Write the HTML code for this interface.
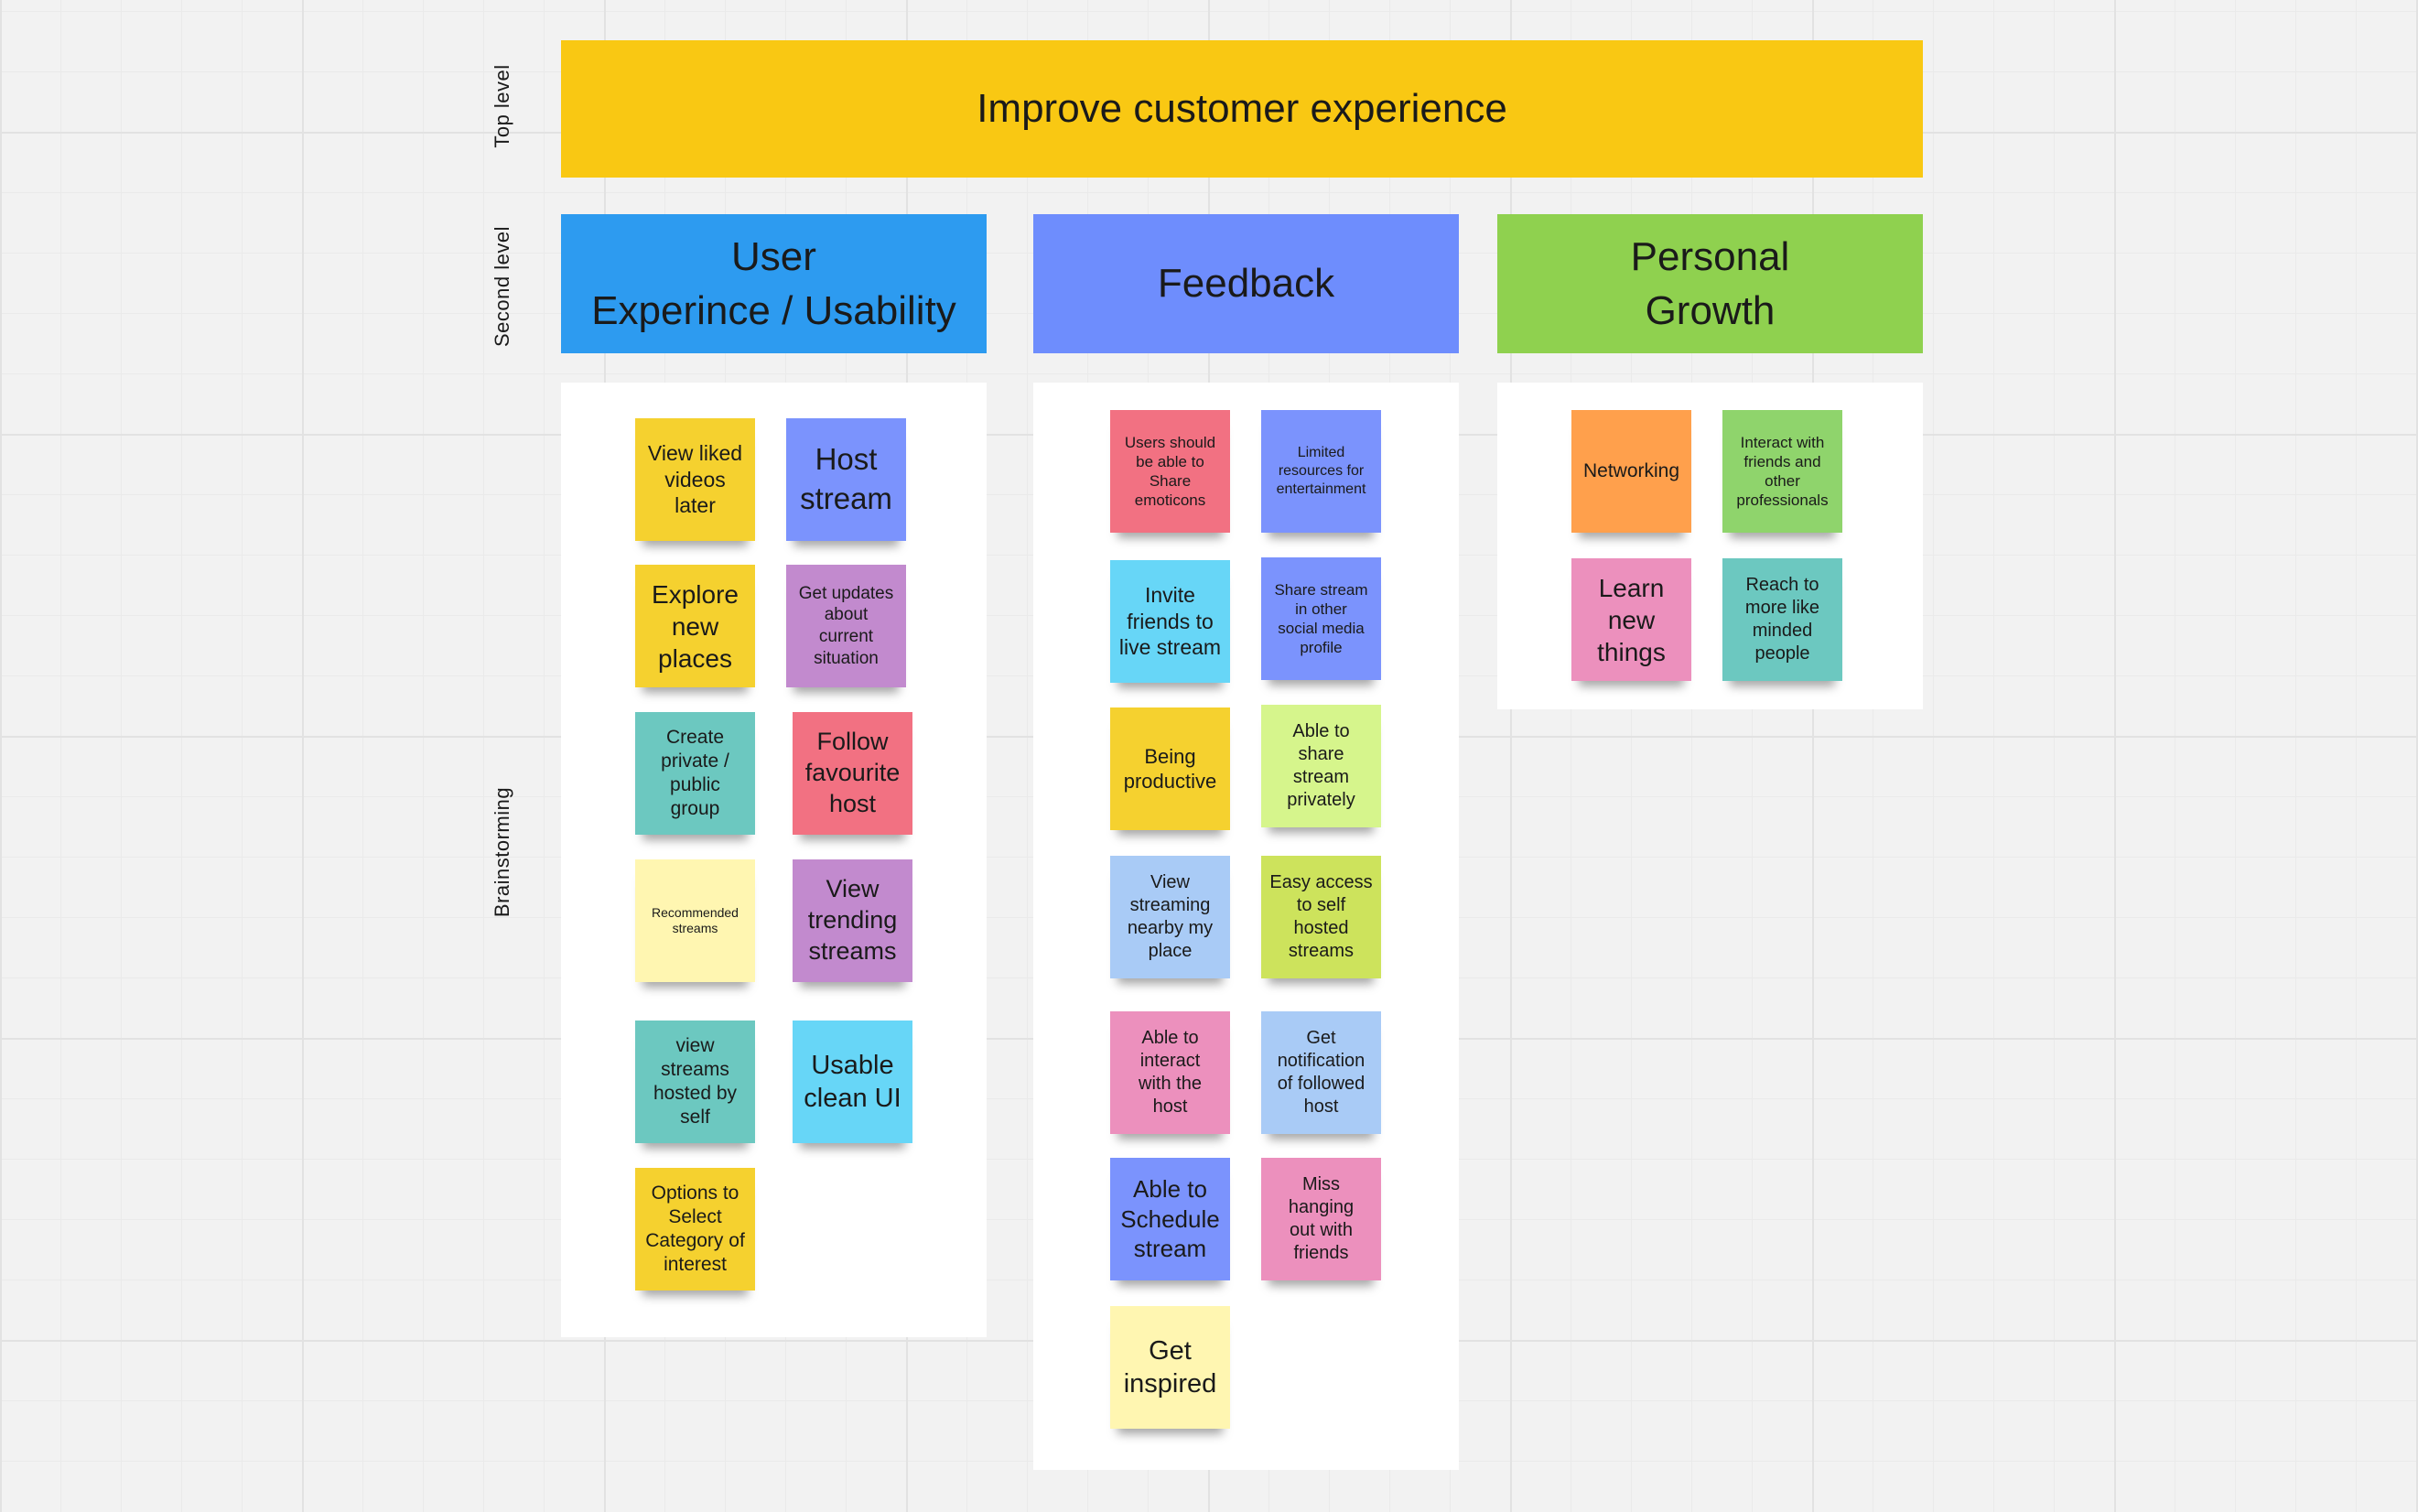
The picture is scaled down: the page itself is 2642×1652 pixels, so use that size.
<!DOCTYPE html>
<html><head><meta charset="utf-8">
<style>
html,body{margin:0;padding:0}
body{width:2642px;height:1652px;position:relative;overflow:hidden;font-family:"Liberation Sans",sans-serif;color:#1a1a1a;
background-color:#f2f2f2;
background-image:
linear-gradient(to right,#e2e2e2 2px,transparent 2px),
linear-gradient(to bottom,#e2e2e2 2px,transparent 2px),
linear-gradient(to right,#eaeaea 1px,transparent 1px),
linear-gradient(to bottom,#eaeaea 1px,transparent 1px);
background-size:330px 330px,330px 330px,66px 66px,66px 66px;
background-position:0 144px,0 144px,0 12px,0 12px;}
.hdr{position:absolute;display:flex;align-items:center;justify-content:center;text-align:center;font-size:44px;line-height:1.35}
.lbl{position:absolute;transform:rotate(-90deg);transform-origin:center;font-size:22px;white-space:nowrap;width:300px;text-align:center;letter-spacing:0.5px}
.panel{position:absolute;background:#fff}
.s{position:absolute;width:131px;height:134px;display:flex;align-items:center;justify-content:center;text-align:center;line-height:1.25;box-shadow:0 14px 10px -8px rgba(0,0,0,0.35);white-space:nowrap;box-sizing:border-box}
</style></head><body>
<div class="lbl" style="left:399px;top:103px">Top level</div>
<div class="lbl" style="left:399px;top:300px">Second level</div>
<div class="lbl" style="left:399px;top:918px">Brainstorming</div>

<div class="hdr" style="left:613px;top:44px;width:1488px;height:150px;background:#f9c813">Improve customer experience</div>
<div class="hdr" style="left:613px;top:234px;width:465px;height:152px;background:#2d9bf0">User<br>Experince / Usability</div>
<div class="hdr" style="left:1129px;top:234px;width:465px;height:152px;background:#6e8dfd">Feedback</div>
<div class="hdr" style="left:1636px;top:234px;width:465px;height:152px;background:#8fd14f">Personal<br>Growth</div>

<div class="panel" style="left:613px;top:418px;width:465px;height:1043px"></div>
<div class="panel" style="left:1129px;top:418px;width:465px;height:1188px"></div>
<div class="panel" style="left:1636px;top:418px;width:465px;height:357px"></div>

<!-- UX -->
<div class="s" style="left:694px;top:457px;background:#f5d12f;font-size:23px">View liked<br>videos<br>later</div>
<div class="s" style="left:859px;top:457px;background:#7b93fd;font-size:33px;line-height:1.3">Host<br>stream</div>
<div class="s" style="left:694px;top:617px;background:#f5d12f;font-size:28px">Explore<br>new<br>places</div>
<div class="s" style="left:859px;top:617px;background:#c28ace;font-size:19px">Get updates<br>about<br>current<br>situation</div>
<div class="s" style="left:694px;top:778px;background:#6cc8c0;font-size:21px">Create<br>private /<br>public<br>group</div>
<div class="s" style="left:866px;top:778px;background:#f27182;font-size:27px">Follow<br>favourite<br>host</div>
<div class="s" style="left:694px;top:939px;background:#fff6b1;font-size:14px">Recommended<br>streams</div>
<div class="s" style="left:866px;top:939px;background:#c28ace;font-size:27px">View<br>trending<br>streams</div>
<div class="s" style="left:694px;top:1115px;background:#6cc8c0;font-size:21px">view<br>streams<br>hosted by<br>self</div>
<div class="s" style="left:866px;top:1115px;background:#67d6f7;font-size:29px">Usable<br>clean UI</div>
<div class="s" style="left:694px;top:1276px;background:#f5d12f;font-size:21px">Options to<br>Select<br>Category of<br>interest</div>

<!-- Feedback -->
<div class="s" style="left:1213px;top:448px;background:#f27182;font-size:17px">Users should<br>be able to<br>Share<br>emoticons</div>
<div class="s" style="left:1378px;top:448px;background:#7b93fd;font-size:16px">Limited<br>resources for<br>entertainment</div>
<div class="s" style="left:1213px;top:612px;background:#67d6f7;font-size:23px">Invite<br>friends to<br>live stream</div>
<div class="s" style="left:1378px;top:609px;background:#7b93fd;font-size:17px">Share stream<br>in other<br>social media<br>profile</div>
<div class="s" style="left:1213px;top:773px;background:#f5d12f;font-size:22px">Being<br>productive</div>
<div class="s" style="left:1378px;top:770px;background:#d6f58c;font-size:20px">Able to<br>share<br>stream<br>privately</div>
<div class="s" style="left:1213px;top:935px;background:#a9cbf6;font-size:20px">View<br>streaming<br>nearby my<br>place</div>
<div class="s" style="left:1378px;top:935px;background:#cde35c;font-size:20px">Easy access<br>to self<br>hosted<br>streams</div>
<div class="s" style="left:1213px;top:1105px;background:#ec90bd;font-size:20px">Able to<br>interact<br>with the<br>host</div>
<div class="s" style="left:1378px;top:1105px;background:#a9cbf6;font-size:20px">Get<br>notification<br>of followed<br>host</div>
<div class="s" style="left:1213px;top:1265px;background:#7b93fd;font-size:26px">Able to<br>Schedule<br>stream</div>
<div class="s" style="left:1378px;top:1265px;background:#ec90bd;font-size:20px">Miss<br>hanging<br>out with<br>friends</div>
<div class="s" style="left:1213px;top:1427px;background:#fff6b1;font-size:29px">Get<br>inspired</div>

<!-- Growth -->
<div class="s" style="left:1717px;top:448px;background:#ffa04c;font-size:21px">Networking</div>
<div class="s" style="left:1882px;top:448px;background:#8fd46c;font-size:17px">Interact with<br>friends and<br>other<br>professionals</div>
<div class="s" style="left:1717px;top:610px;background:#ec90bd;font-size:28px">Learn<br>new<br>things</div>
<div class="s" style="left:1882px;top:610px;background:#6cc8c0;font-size:20px">Reach to<br>more like<br>minded<br>people</div>
</body></html>
